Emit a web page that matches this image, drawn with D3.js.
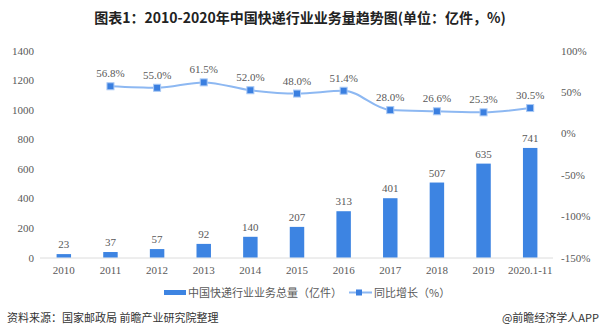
<!DOCTYPE html>
<html><head><meta charset="utf-8">
<script src="https://cdn.jsdelivr.net/npm/d3@7"></script>
<style>
body{margin:0;background:#fff;}
svg{display:block;}
</style></head>
<body><svg id="c" width="600" height="335"></svg>
<script>
const categories = ["2010","2011","2012","2013","2014","2015","2016","2017","2018","2019","2020.1-11"];
const volume = [23,37,57,92,140,207,313,401,507,635,741];
const growthCats = ["2011","2012","2013","2014","2015","2016","2017","2018","2019","2020.1-11"];
const growth = [56.8,55.0,61.5,52.0,48.0,51.4,28.0,26.6,25.3,30.5];
const leftTicks = [0,200,400,600,800,1000,1200,1400];
const rightTicks = [-150,-100,-50,0,50,100];
const title = "图表1：2010-2020年中国快递行业业务量趋势图(单位：亿件，%)";
const legendBar = "中国快递行业业务总量（亿件）";
const legendLine = "同比增长（%）";
const source = "资料来源：国家邮政局 前瞻产业研究院整理";
const brand = "@前瞻经济学人APP";

const svg = d3.select("#c");
const numFont = "'Liberation Serif','DejaVu Serif',serif";
const cjkFont = "'Noto Sans CJK SC','Noto Sans',sans-serif";
const barColor = "#3d84e2";
const lineColor = "#8db8f2";
const textColor = "#595959";

const x = d3.scaleBand().domain(categories).range([40.5,553.5]).paddingInner(0.69).paddingOuter(0.345);
const yL = d3.scaleLinear().domain([0,1400]).range([257.5,50.5]);
const yR = d3.scaleLinear().domain([-150,100]).range([257.5,50.5]);

svg.append("text").attr("x",300).attr("y",23).attr("text-anchor","middle")
  .attr("font-family",cjkFont).attr("font-weight","bold").attr("font-size",14).attr("fill","#222").text(title);

// left axis
const gl = svg.append("g").attr("transform","translate(34,0)")
  .call(d3.axisLeft(yL).tickValues(leftTicks).tickSize(0).tickPadding(0).tickFormat(d=>String(d)));
gl.select(".domain").remove();
gl.selectAll("text").attr("font-family",numFont).attr("font-size",11).attr("fill",textColor);

// right axis
const gr = svg.append("g").attr("transform","translate(561,0)")
  .call(d3.axisRight(yR).tickValues(rightTicks).tickSize(0).tickPadding(0).tickFormat(d=>d+"%"));
gr.select(".domain").remove();
gr.selectAll("text").attr("font-family",numFont).attr("font-size",11).attr("fill",textColor);

// baseline
svg.append("line").attr("x1",40).attr("x2",553).attr("y1",258).attr("y2",258).attr("stroke","#dcdcdc").attr("stroke-width",1);

// x axis labels
const gx = svg.append("g").attr("transform","translate(0,258)")
  .call(d3.axisBottom(x).tickSize(0).tickPadding(8));
gx.select(".domain").remove();
gx.selectAll("text").attr("font-family",numFont).attr("font-size",11).attr("fill",textColor);

// bars
svg.selectAll("rect.bar").data(volume).enter().append("rect").attr("class","bar")
  .attr("x",(d,i)=>x(categories[i])).attr("width",x.bandwidth())
  .attr("y",d=>yL(d)).attr("height",d=>yL(0)-yL(d)).attr("fill",barColor);
svg.selectAll("text.bl").data(volume).enter().append("text").attr("class","bl")
  .attr("x",(d,i)=>x(categories[i])+x.bandwidth()/2).attr("y",d=>yL(d)-6)
  .attr("text-anchor","middle").attr("font-family",numFont).attr("font-size",11).attr("fill",textColor).text(d=>d);

// line
const cx = c => x(c)+x.bandwidth()/2;
const line = d3.line().x((d,i)=>cx(growthCats[i])).y(d=>yR(d)).curve(d3.curveMonotoneX);
svg.append("path").datum(growth).attr("d",line).attr("fill","none").attr("stroke",lineColor).attr("stroke-width",2);
svg.selectAll("rect.pt").data(growth).enter().append("rect").attr("class","pt")
  .attr("x",(d,i)=>cx(growthCats[i])-3.5).attr("y",d=>yR(d)-3.5).attr("width",7).attr("height",7)
  .attr("fill","#3a7fe0").attr("stroke","#a9c9f5").attr("stroke-width",1);
svg.selectAll("text.pl").data(growth).enter().append("text").attr("class","pl")
  .attr("x",(d,i)=>cx(growthCats[i])).attr("y",d=>yR(d)-9)
  .attr("text-anchor","middle").attr("font-family",numFont).attr("font-size",11).attr("fill",textColor).text(d=>d.toFixed(1)+"%");

// legend
const lg = svg.append("g");
lg.append("rect").attr("x",164).attr("y",290).attr("width",22).attr("height",5).attr("fill",barColor);
lg.append("text").attr("x",188).attr("y",297).attr("font-family",cjkFont).attr("font-size",11).attr("fill",textColor).text(legendBar);
lg.append("line").attr("x1",349).attr("x2",372).attr("y1",292.5).attr("y2",292.5).attr("stroke",lineColor).attr("stroke-width",2);
lg.append("rect").attr("x",356).attr("y",289.5).attr("width",6).attr("height",6).attr("fill","#3a7fe0");
lg.append("text").attr("x",374).attr("y",297).attr("font-family",cjkFont).attr("font-size",11).attr("fill",textColor).text(legendLine);

// source
svg.append("text").attr("x",7).attr("y",322).attr("font-family",cjkFont).attr("font-size",11).attr("fill","#333").text(source);
svg.append("text").attr("x",599).attr("y",322).attr("text-anchor","end").attr("font-family",cjkFont).attr("font-size",11).attr("fill","#333").text(brand);
</script></body></html>
